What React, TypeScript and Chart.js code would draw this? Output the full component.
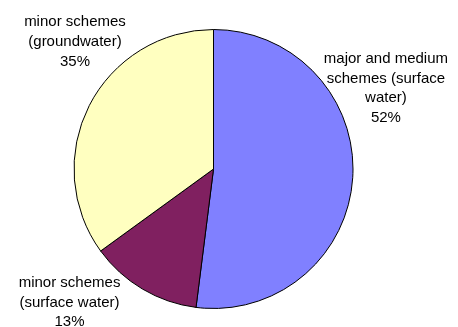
import React, { useEffect, useRef } from "react";
import { Chart, registerables } from "chart.js";

Chart.register(...registerables);

const categories: string[][] = [
  ["major and medium", "schemes (surface", "water)"],
  ["minor schemes", "(surface water)"],
  ["minor schemes", "(groundwater)"],
];
const values: number[] = [52, 13, 35];
const percentLabels: string[] = ["52%", "13%", "35%"];
const colors: string[] = ["#8080FF", "#802060", "#FFFFC0"];

// label block centre offsets, as fractions of the pie radius
const labelOffsets: [number, number][] = [
  [1.236, -0.579],
  [-1.032, 0.957],
  [-0.993, -0.911],
];

const labelPlugin = {
  id: "outsideLabels",
  afterDraw(chart: any) {
    const meta = chart.getDatasetMeta(0);
    const ctx = chart.ctx;
    ctx.save();
    ctx.font = "15px 'Liberation Sans', Arial, sans-serif";
    ctx.fillStyle = "#000";
    ctx.textAlign = "center";
    ctx.textBaseline = "middle";
    const lineH = 19.7;
    meta.data.forEach((arc: any, i: number) => {
      const { x, y, outerRadius } = arc.getProps(["x", "y", "outerRadius"], true);
      const lines = [...categories[i], percentLabels[i]];
      const cx = x + labelOffsets[i][0] * outerRadius;
      const cy = y + labelOffsets[i][1] * outerRadius;
      const top = cy - ((lines.length - 1) * lineH) / 2;
      lines.forEach((t, j) => ctx.fillText(t, cx, top + j * lineH));
    });
    ctx.restore();
  },
};

export default function App() {
  const ref = useRef<HTMLCanvasElement>(null);
  useEffect(() => {
    document.body.style.margin = "0";
    const chart = new Chart(ref.current!, {
      type: "pie",
      data: {
        labels: categories.map((c) => c.join(" ")),
        datasets: [
          {
            data: values,
            backgroundColor: colors,
            borderColor: "#000",
            borderWidth: 1,
          },
        ],
      },
      options: {
        responsive: false,
        animation: false,
        layout: { padding: { left: 73, right: 104, top: 29, bottom: 18 } },
        plugins: { legend: { display: false }, tooltip: { enabled: false } },
      },
      plugins: [labelPlugin],
    });
    return () => chart.destroy();
  }, []);
  return (
    <div style={{ position: "fixed", left: 0, top: 0, width: 458, height: 327, background: "#fff" }}>
      <canvas ref={ref} width={458} height={327} />
    </div>
  );
}
